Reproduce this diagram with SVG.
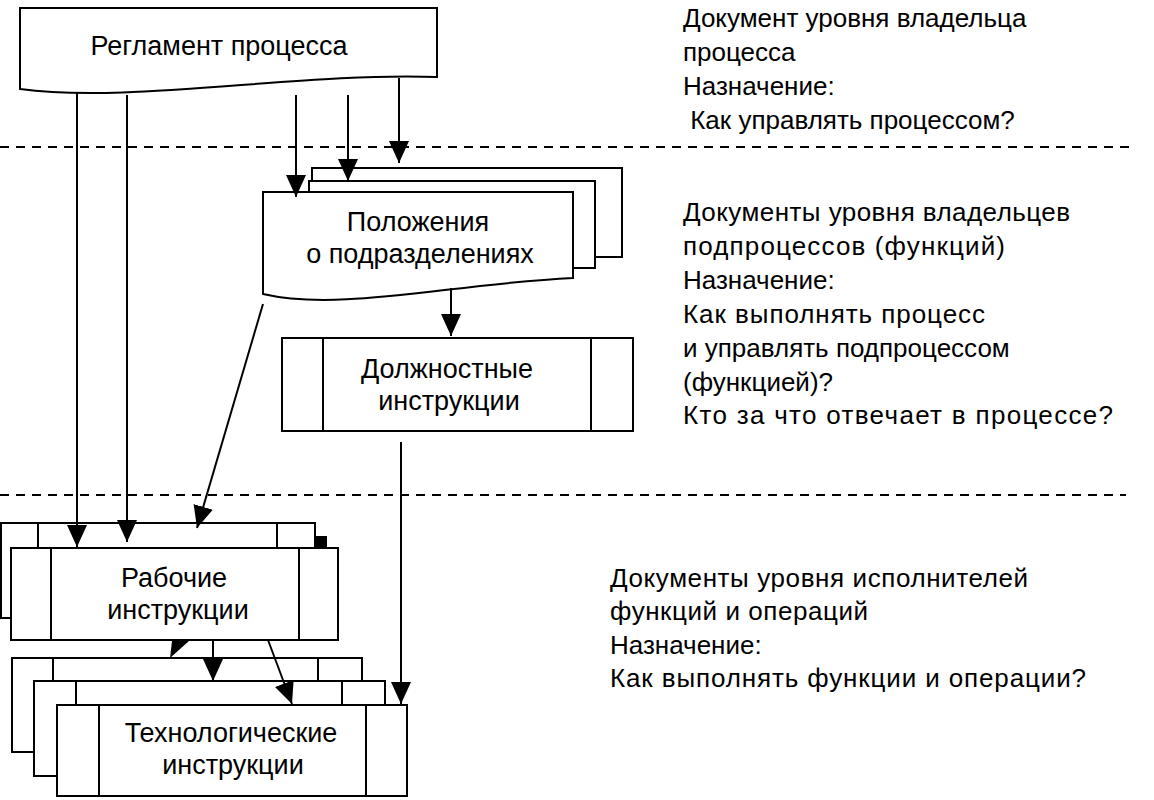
<svg xmlns="http://www.w3.org/2000/svg" width="1154" height="800" viewBox="0 0 1154 800">
<style>
.bx{fill:#fff;stroke:#000;stroke-width:2}
.ln{fill:none;stroke:#000;stroke-width:2}
.dash{fill:none;stroke:#000;stroke-width:2.2;stroke-dasharray:9 7}
.t{font-family:"Liberation Sans",Arial,sans-serif;font-size:27px;fill:#000}
.tc{text-anchor:middle}
.r{font-family:"Liberation Sans",Arial,sans-serif;font-size:26px;fill:#000}
</style>
<defs>
<marker id="ah" viewBox="0 0 22 20" refX="22" refY="10" markerWidth="22" markerHeight="20" markerUnits="userSpaceOnUse" orient="auto">
<path d="M0,0 L22,10 L0,20 Z" fill="#000"/>
</marker>
</defs>
<rect width="1154" height="800" fill="#fff"/>

<g id="separators">
<line class="dash" x1="0" y1="147" x2="1136" y2="147"/>
<line class="dash" x1="0" y1="495" x2="1126" y2="495"/>
</g>

<g id="reglament">
<path class="bx" d="M20,8 L437,8 L437,77 C300,72 130,104 20,89 Z"/>
<text class="t tc" x="219" y="55">Регламент процесса</text>
</g>

<g id="polozhenia">
<rect class="bx" x="312" y="168" width="310" height="89"/>
<rect class="bx" x="309" y="181" width="286" height="87"/>
<path class="bx" d="M263,192 L573,192 L573,278 C450,284 340,312 263,294 Z"/>
<text class="t tc" x="418" y="231">Положения</text>
<text class="t tc" x="420" y="263">о подразделениях</text>
</g>

<g id="dolzhnostnye">
<rect class="bx" x="282" y="338" width="351" height="93"/>
<line class="ln" x1="323" y1="338" x2="323" y2="431"/>
<line class="ln" x1="591" y1="338" x2="591" y2="431"/>
<text class="t tc" x="447" y="378">Должностные</text>
<text class="t tc" x="449" y="410">инструкции</text>
</g>

<g id="rabochie">
<rect class="bx" x="1" y="523" width="314" height="95"/>
<line class="ln" x1="38" y1="523" x2="38" y2="548"/>
<line class="ln" x1="277" y1="523" x2="277" y2="548"/>
<rect x="316" y="536" width="11" height="11" fill="#000"/>
<rect class="bx" x="11" y="548" width="327" height="92"/>
<line class="ln" x1="51" y1="548" x2="51" y2="640"/>
<line class="ln" x1="299" y1="548" x2="299" y2="640"/>
<text class="t tc" x="174" y="587">Рабочие</text>
<text class="t tc" x="178" y="619">инструкции</text>
</g>

<g id="tekhnologicheskie">
<rect class="bx" x="12" y="658" width="350" height="94"/>
<line class="ln" x1="53" y1="658" x2="53" y2="681"/>
<line class="ln" x1="318" y1="658" x2="318" y2="681"/>
<rect class="bx" x="34" y="681" width="351" height="95"/>
<line class="ln" x1="76" y1="681" x2="76" y2="705"/>
<line class="ln" x1="342" y1="681" x2="342" y2="705"/>
<rect class="bx" x="57" y="705" width="350" height="91"/>
<line class="ln" x1="99" y1="705" x2="99" y2="796"/>
<line class="ln" x1="366" y1="705" x2="366" y2="796"/>
<text class="t tc" x="231" y="742">Технологические</text>
<text class="t tc" x="233" y="774">инструкции</text>
</g>

<g id="connectors">
<line class="ln" x1="77" y1="93" x2="77" y2="547" marker-end="url(#ah)"/>
<line class="ln" x1="127" y1="95" x2="127" y2="542" marker-end="url(#ah)"/>
<line class="ln" x1="296" y1="95" x2="296" y2="197" marker-end="url(#ah)"/>
<line class="ln" x1="348" y1="95" x2="348" y2="181" marker-end="url(#ah)"/>
<line class="ln" x1="399" y1="78" x2="399" y2="163" marker-end="url(#ah)"/>
<line class="ln" x1="451" y1="288" x2="451" y2="336" marker-end="url(#ah)"/>
<line class="ln" x1="263" y1="304" x2="197" y2="528" marker-end="url(#ah)"/>
<line class="ln" x1="401" y1="442" x2="401" y2="704" marker-end="url(#ah)"/>
<polygon points="172,641 189,641 170,658" fill="#000"/>
<line class="ln" x1="213" y1="640" x2="213" y2="681" marker-end="url(#ah)"/>
<line class="ln" x1="268" y1="640" x2="292" y2="704" marker-end="url(#ah)"/>
</g>

<g id="notes">
<text class="r" x="683" y="27">Документ уровня владельца</text>
<text class="r" x="683" y="61">процесса</text>
<text class="r" x="683" y="95">Назначение:</text>
<text class="r" x="683" y="129" xml:space="preserve"> Как управлять процессом?</text>
<text class="r" x="683" y="221" textLength="387">Документы уровня владельцев</text>
<text class="r" x="683" y="255" textLength="322">подпроцессов (функций)</text>
<text class="r" x="683" y="289">Назначение:</text>
<text class="r" x="683" y="323" textLength="302">Как выполнять процесс</text>
<text class="r" x="683" y="357">и управлять подпроцессом</text>
<text class="r" x="683" y="391">(функцией)?</text>
<text class="r" x="683" y="424" textLength="430">Кто за что отвечает в процессе?</text>
<text class="r" x="610" y="587" textLength="418">Документы уровня исполнителей</text>
<text class="r" x="610" y="620" textLength="258">функций и операций</text>
<text class="r" x="610" y="654">Назначение:</text>
<text class="r" x="610" y="687" textLength="476">Как выполнять функции и операции?</text>
</g>
</svg>
